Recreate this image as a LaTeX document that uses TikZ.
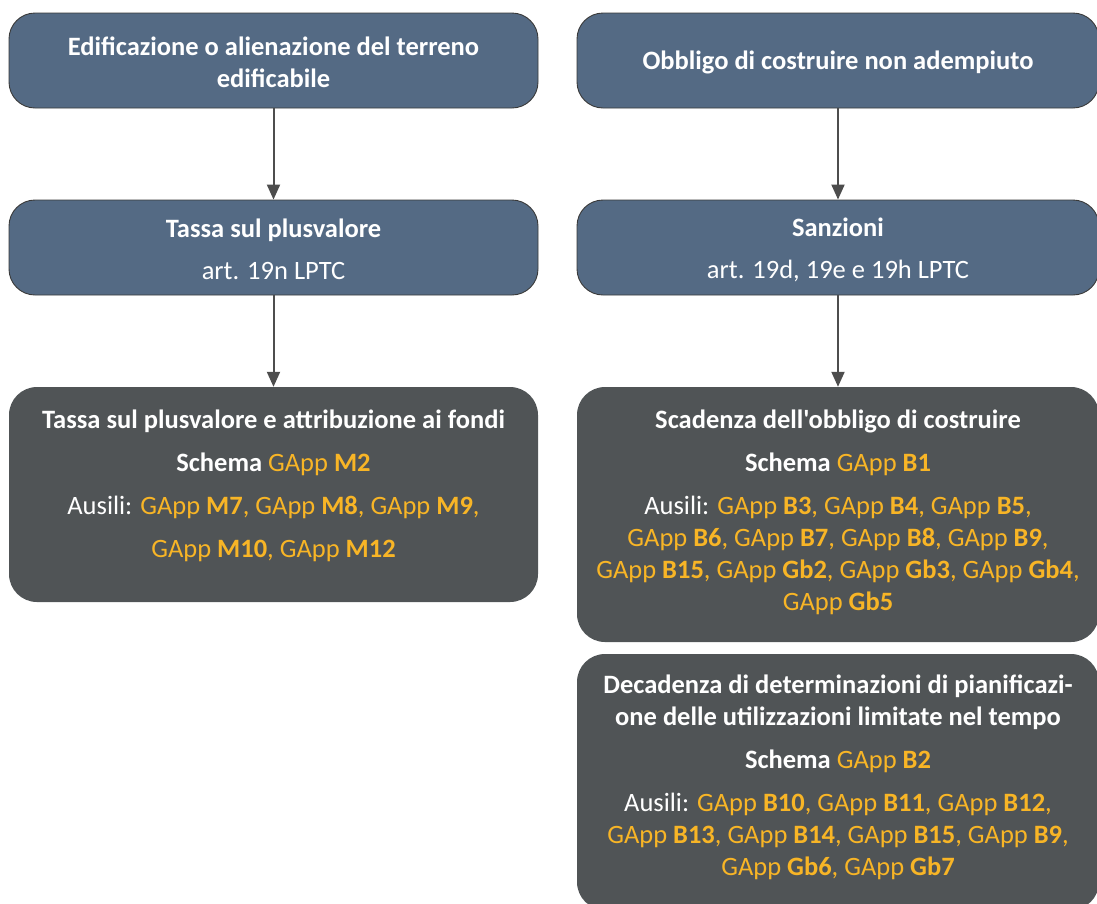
\documentclass[tikz,border=0pt]{standalone}
\usepackage{fontspec}
\setmainfont{Carlito}[Ligatures=TeXOff]
\usetikzlibrary{arrows.meta,positioning}
\definecolor{headblue}{HTML}{546A84}
\definecolor{darkbox}{HTML}{505456}
\definecolor{gold}{HTML}{F8B526}
\definecolor{edge}{HTML}{3A3A3A}
\definecolor{arrowgray}{HTML}{4D4D4D}
\newcommand\gapp[1]{GApp \textbf{#1}}
% extra room above the first line of a header, nudging its text down a little
\newcommand\topstrut{\rule{0pt}{23pt}}
\begin{document}
\begin{tikzpicture}[x=1pt,y=-1pt,
  every node/.style={font=\fontsize{26.5}{32}\selectfont, text=white},
  headbox/.style={draw=edge, line width=0.9pt, fill=headblue, rounded corners=26pt,
    inner sep=0pt, minimum height=95pt, align=center},
  infobox/.style={fill=darkbox, rounded corners=28pt, inner sep=0pt},
  infotext/.style={anchor=north, inner sep=0pt, align=center},
  link/.style={draw=arrowgray, line width=2pt, -{Triangle[width=13pt,length=15pt]}}]
\useasboundingbox (0,0) rectangle (1097,903);
\clip (0,0) rectangle (1097,903);

% left column
\node[headbox, minimum width=529pt] (edif) at (273.5,60.5)
  {\topstrut\textbf{Edificazione o alienazione del terreno}\\\textbf{edificabile}};
\node[headbox, minimum width=529pt] (tassa) at (273.5,247.5)
  {\topstrut\textbf{Tassa sul plusvalore}\\[10pt]art. 19n LPTC};
\node[infobox, minimum width=529pt, minimum height=215pt] (fondi) at (273.5,494.5) {};
\node[infotext] (fonditxt) at ([yshift=-23pt]fondi.north)
  {\textbf{Tassa sul plusvalore e attribuzione ai fondi}\\[11pt]
   \textbf{Schema} {\color{gold}\gapp{M2}}\\[11pt]
   Ausili: {\color{gold}\gapp{M7}, \gapp{M8}, \gapp{M9},}\\[11pt]
   {\color{gold}\gapp{M10}, \gapp{M12}}};

% right column
\node[headbox, minimum width=522pt] (obbligo) at (838,60.5)
  {\topstrut\textbf{Obbligo di costruire non adempiuto}};
\node[headbox, minimum width=522pt] (sanz) at (838,247.5)
  {\topstrut\textbf{Sanzioni}\\[10pt]art. 19d, 19e e 19h LPTC};
\node[infobox, minimum width=522pt, minimum height=255pt] (scad) at (838,514.5) {};
\node[infotext] (scadtxt) at ([yshift=-23pt]scad.north)
  {\textbf{Scadenza dell'obbligo di costruire}\\[11pt]
   \textbf{Schema} {\color{gold}\gapp{B1}}\\[11pt]
   Ausili: {\color{gold}\gapp{B3}, \gapp{B4}, \gapp{B5},}\\
   {\color{gold}\gapp{B6}, \gapp{B7}, \gapp{B8}, \gapp{B9},}\\
   {\color{gold}\gapp{B15}, \gapp{Gb2}, \gapp{Gb3}, \gapp{Gb4},}\\
   {\color{gold}\gapp{Gb5}}};
\node[infobox, minimum width=522pt, minimum height=256pt] (decad) at (838,782) {};
\node[infotext] (decadtxt) at ([yshift=-21pt]decad.north)
  {\textbf{Decadenza di determinazioni di pianificazi-}\\
   \textbf{one delle utilizzazioni limitate nel tempo}\\[11pt]
   \textbf{Schema} {\color{gold}\gapp{B2}}\\[11pt]
   Ausili: {\color{gold}\gapp{B10}, \gapp{B11}, \gapp{B12},}\\
   {\color{gold}\gapp{B13}, \gapp{B14}, \gapp{B15}, \gapp{B9},}\\
   {\color{gold}\gapp{Gb6}, \gapp{Gb7}}};

% connectors
\draw[link] (edif.south) -- (tassa.north);
\draw[link] (tassa.south) -- (fondi.north);
\draw[link] (obbligo.south) -- (sanz.north);
\draw[link] (sanz.south) -- (scad.north);
\end{tikzpicture}
\end{document}
